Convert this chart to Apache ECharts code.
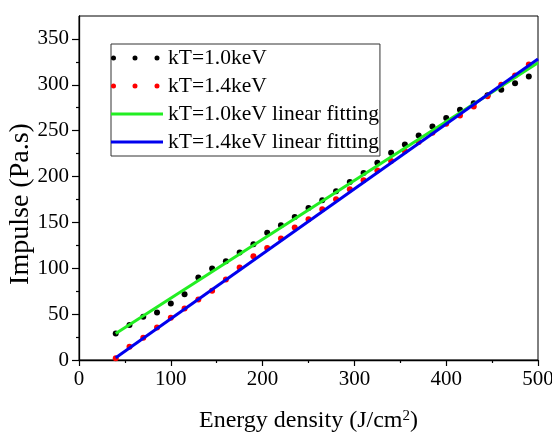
<!DOCTYPE html>
<html>
<head>
<meta charset="utf-8">
<script src="https://cdn.jsdelivr.net/npm/echarts@6/dist/echarts.min.js"></script>
<style>html,body{margin:0;padding:0;background:#fff}#c{width:552px;height:432px}</style>
</head>
<body>
<div id="c"></div>
<script>
// Energy density (J/cm2) sample positions
var energy = [40,55,70,85,100,115,130,145,160,175,190,205,220,235,250,265,280,295,310,325,340,355,370,385,400,415,430,445,460,475,490];
// Impulse (Pa.s) at kT = 1.0 keV
var impulse10 = [29.0,38.1,47.2,51.9,61.7,71.8,90.0,99.7,107.7,117.2,126.2,138.6,146.9,156.0,165.8,174.1,183.9,194.1,203.8,215.1,226.0,235.0,244.8,254.6,263.7,272.8,280.0,288.5,294.5,301.8,309.0];
// Impulse (Pa.s) at kT = 1.4 keV
var impulse14 = [1.8,14.5,24.3,35.5,46.1,56.2,66.0,75.4,87.8,100.8,113.2,122.2,132.4,144.4,153.4,164.3,175.2,186.1,195.9,206.7,216.9,227.8,237.6,247.7,257.5,266.6,276.4,287.6,300.0,310.1,322.1];
// Linear fitting end points [energy, impulse]
var fit10 = [[40,29.0],[500,324.0]];
var fit14 = [[40,2.5],[500,328.2]];
// Tick values
var xTicks = [0,100,200,300,400,500];
var yMajor = [0,50,100,150,200,250,300,350];
var yMinor = [25,75,125,175,225,275,325];

var names = ['kT=1.0keV','kT=1.4keV','kT=1.0keV linear fitting','kT=1.4keV linear fitting'];
var FONT = 'Liberation Serif';

function pairs(xs, ys){ var o=[]; for(var i=0;i<xs.length;i++) o.push([xs[i], ys[i]]); return o; }

var dotsIcon = 'path://M0,2.5A2.5,2.5 0 1 1 5,2.5A2.5,2.5 0 1 1 0,2.5Z' +
  'M21.5,2.5A2.5,2.5 0 1 1 26.5,2.5A2.5,2.5 0 1 1 21.5,2.5Z' +
  'M43.5,2.5A2.5,2.5 0 1 1 48.5,2.5A2.5,2.5 0 1 1 43.5,2.5Z' +
  'M52,0L52,0M52,5L52,5';
var lineIcon = 'path://M0,1L52,1L52,4L0,4Z M0,0L0,0 M0,5L0,5';

var chart = echarts.init(document.getElementById('c'), null, {renderer:'canvas'});
chart.setOption({
  animation: false,
  backgroundColor: '#fff',
  textStyle: {fontFamily: FONT, color: '#000'},
  grid: {left: 79, right: 14, top: 16, bottom: 72, containLabel: false, outerBoundsMode: 'none',
         show: true, borderColor: '#000', borderWidth: 1, backgroundColor: 'transparent'},
  legend: {
    orient: 'vertical', left: 111, top: 44,
    padding: [3, 1, 3, 0],
    itemWidth: 52, itemHeight: 5, itemGap: 6,
    borderColor: '#333', borderWidth: 1,
    textStyle: {fontFamily: FONT, fontSize: 21.5, color: '#000', lineHeight: 21},
    data: [
      {name: names[0], icon: dotsIcon},
      {name: names[1], icon: dotsIcon},
      {name: names[2], icon: lineIcon},
      {name: names[3], icon: lineIcon}
    ]
  },
  xAxis: {
    type: 'value', min: 0, max: 500, interval: 100,
    name: '{a|Energy density (J/cm}{s|2}{a|)}',
    nameLocation: 'middle', nameGap: 49,
    nameTextStyle: {
      fontFamily: FONT,
      rich: {
        a: {fontFamily: FONT, fontSize: 24, color: '#000'},
        s: {fontFamily: FONT, fontSize: 15, color: '#000', verticalAlign: 'top', padding: [0,0,8,0]}
      }
    },
    axisLine: {show: true, lineStyle: {color: '#000', width: 1.3}},
    axisTick: {show: true, length: 6, lineStyle: {color: '#000', width: 1.2}},
    minorTick: {show: true, splitNumber: 2, length: 3, lineStyle: {color: '#000', width: 1.2}},
    axisLabel: {fontFamily: FONT, fontSize: 21, color: '#000', margin: 9},
    splitLine: {show: false}
  },
  yAxis: [{
    type: 'value', min: 0, max: 375, position: 'left',
    axisLine: {show: true, lineStyle: {color: '#000', width: 1.3}},
    axisTick: {show: true, length: 7, customValues: yMajor, lineStyle: {color: '#000', width: 1.2}},
    axisLabel: {fontFamily: FONT, fontSize: 21, color: '#000', margin: 10, customValues: yMajor},
    splitLine: {show: false}
  }, {
    type: 'value', min: 0, max: 375, position: 'left', offset: 0,
    axisLine: {show: false},
    axisTick: {show: true, length: 3, customValues: yMinor, lineStyle: {color: '#000', width: 1.2}},
    axisLabel: {show: false},
    splitLine: {show: false}
  }],
  graphic: [{
    type: 'text', x: 21, y: 204, rotation: Math.PI / 2,
    style: {text: 'Impulse (Pa.s)', fontFamily: FONT, fontSize: 28, fill: '#000', align: 'center', verticalAlign: 'middle'}
  }],
  series: [
    {name: names[0], type: 'scatter', data: pairs(energy, impulse10), symbol: 'circle', symbolSize: 6, itemStyle: {color: '#000', opacity: 1}, z: 2},
    {name: names[1], type: 'scatter', data: pairs(energy, impulse14), symbol: 'circle', symbolSize: 6, itemStyle: {color: '#ff0000', opacity: 1}, z: 2},
    {name: names[2], type: 'line', data: fit10, symbol: 'none', lineStyle: {color: '#22ee22', width: 3}, itemStyle: {color: '#22ee22'}, z: 3},
    {name: names[3], type: 'line', data: fit14, symbol: 'none', lineStyle: {color: '#0000ee', width: 3}, itemStyle: {color: '#0000ee'}, z: 4}
  ]
});
</script>
</body>
</html>
